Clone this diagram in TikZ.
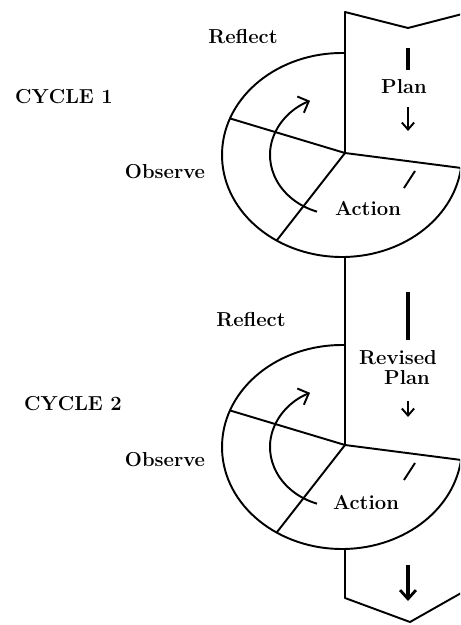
\documentclass[tikz,border=0pt]{standalone}
\usetikzlibrary{arrows.meta,calc}
\begin{document}
\begin{tikzpicture}[x=0.02cm,y=0.02cm,
  outline/.style={line width=1.1pt, line join=round},
  lbl/.style={font=\fontsize{11.5}{13}\selectfont\bfseries, inner sep=0pt},
  bar/.style={line width=2pt},
  turn/.style={line width=1.1pt, -{Straight Barb[length=5pt,width=10pt,line width=1.1pt]}},
  down/.style={line width=1.1pt, -{Straight Barb[length=4pt,width=7pt,line width=1.1pt]}},
  bigdown/.style={line width=2pt, -{Straight Barb[length=5pt,width=9pt,line width=1.6pt]}}]
\useasboundingbox (0,0) rectangle (460,-625);
\clip (0,0) rectangle (460,-625);

% the plan column: notched top, left edge and pointed bottom
\coordinate (topL) at (345,-12);
\coordinate (topV) at (408,-28);
\coordinate (topR) at (470,-12);
\coordinate (c1) at (345,-153);
\coordinate (c2) at (345,-445);
\coordinate (botL) at (345,-598);
\coordinate (botV) at (410,-622);
\coordinate (botR) at (470,-588);
\draw[outline] (topR) -- (topV) -- (topL) -- (c1);
\draw[outline] (345,-257) -- (c2);
\draw[outline] (345,-549) -- (botL) -- (botV) -- (botR);

% one cycle: ellipse sectors, segment lines, turning arrow
\foreach \dy/\n in {0/1,-292/2}{
  \begin{scope}[shift={(0,\dy)}]
    \coordinate (e\n) at (342,-155);
    \coordinate (m\n) at (345,-153);
    \draw[outline] (e\n) ++(88.6:120 and 102)
      arc[start angle=88.6, end angle=352.7, x radius=120, y radius=102];
    \draw[outline] (m\n) -- ($(e\n)+(352.7:120 and 102)$);
    \draw[outline] (m\n) -- ($(e\n)+(159:120 and 102)$);
    \draw[outline] (m\n) -- ($(e\n)+(237:120 and 102)$);
    \draw[turn] (340,-155) ++(250.8:70 and 60)
      arc[start angle=250.8, end angle=115.4, x radius=70, y radius=60];
    \draw[outline] (404,-188) -- (415,-171);
  \end{scope}
}

% arrows inside the column
\draw[bar] (408,-48) -- (408,-70);
\draw[down] (408,-107) -- (408,-131);
\draw[bar] (408,-292) -- (408,-340);
\draw[down] (408,-401) -- (408,-417);
\draw[bigdown] (408,-565) -- (408,-601);

% labels
\node[lbl] (refl1) at (243,-37) {Reflect};
\node[lbl] (cyc1) at (64,-97) {CYCLE 1};
\node[lbl] (obs1) at (165,-172) {Observe};
\node[lbl] (plan1) at (404,-87) {Plan};
\node[lbl] (act1) at (368,-208) {Action};
\node[lbl] (refl2) at (251,-320) {Reflect};
\node[lbl] (cyc2) at (73,-404) {CYCLE 2};
\node[lbl] (obs2) at (165,-460) {Observe};
\node[lbl] (rev2) at (398,-358) {Revised};
\node[lbl] (plan2) at (407,-378) {Plan};
\node[lbl] (act2) at (366,-502) {Action};
\end{tikzpicture}
\end{document}
